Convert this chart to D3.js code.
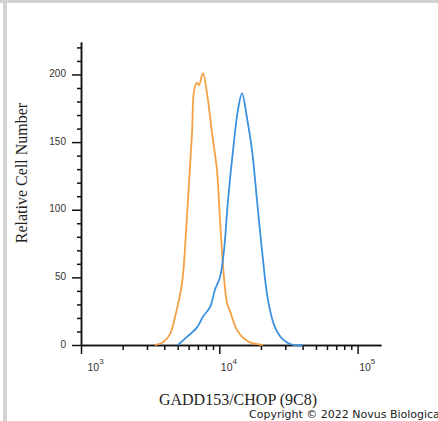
<!DOCTYPE html>
<html>
<head>
<meta charset="utf-8">
<script src="https://cdn.jsdelivr.net/npm/d3@7"></script>
<style>
  html, body { margin: 0; padding: 0; background: #fff; }
  svg { display: block; }
  .axis path, .axis line { stroke: #111; stroke-width: 1.5; }
  .axis text { font-family: "Liberation Sans", Arial, sans-serif; fill: #333; }
</style>
</head>
<body>
<div id="chart"></div>
<script>
"use strict";

// isotype control (orange) and GADD153/CHOP stained (blue): intensity, count
var controlIntensity = [3430, 3920, 4400, 4790, 5380, 5740, 6040, 6350, 6570, 6900, 7130, 7620, 8150, 8850, 9620, 10100, 10650, 11370, 11950, 13420, 15000, 16670, 20690];
var controlCount     = [0,    2,    8,    21,   46,   83,   120,  157,  188,  194,  192,  201,  186,  157,  129,  94,    58,    31,    25,    11,    5,     2,     0];

var chopIntensity = [5020, 5840, 6900, 7620, 8570, 9310, 10110, 10810, 11560, 12570, 13650, 14590, 15850, 17230, 18730, 20360, 22500, 25280, 28890, 34120, 40270];
var chopCount     = [0,    6,    13,   21,   28,   41,   50,    70,    107,   144,   174,   186,   168,   144,   107,   70,    33,    13,    4,     0,     0];

var yMajor = [0, 50, 100, 150, 200];
var xMajor = [1e3, 1e4, 1e5];
var xMajorExp = ["3", "4", "5"];

var width = 438, height = 421;

var svg = d3.select('#chart').append('svg')
    .attr('width', width)
    .attr('height', height);

// frame remnants of the screenshot
svg.append('rect').attr('x', 0).attr('y', 0).attr('width', width).attr('height', 3).attr('fill', '#d3d3d3');
svg.append('rect').attr('x', 3).attr('y', 0).attr('width', 4).attr('height', height).attr('fill', '#d3d3d3');

var x = d3.scaleLog()
    .domain([1e3, Math.pow(10, 5.169)])
    .range([81, 381]);

var y = d3.scaleLinear()
    .domain([0, 224])
    .range([345, 42]);

// minor x ticks 2..9 x 10^n
var xMinor = [];
[1e3, 1e4, 1e5].forEach(function (base) {
    for (var k = 2; k <= 9; k++) {
        if (base * k <= x.domain()[1]) xMinor.push(base * k);
    }
});
var yMinor = d3.range(0, 230, 10).filter(function (v) { return v % 50 !== 0; });

// y axis
svg.append('g')
    .attr('class', 'axis')
    .attr('transform', 'translate(81,0)')
    .call(d3.axisLeft(y).tickValues(yMinor).tickSize(4).tickSizeOuter(0).tickFormat(''));

svg.append('g')
    .attr('class', 'axis axis--y')
    .attr('transform', 'translate(81,0)')
    .call(d3.axisLeft(y).tickValues(yMajor).tickSize(9).tickSizeOuter(0).tickPadding(6))
    .call(function (g) {
        g.selectAll('text').style('font-size', '10px').attr('dy', '0.2em');
        g.selectAll('.tick line').attr('stroke-width', 2);
    });

// x axis
svg.append('g')
    .attr('class', 'axis')
    .attr('transform', 'translate(0,345)')
    .call(d3.axisBottom(x).tickValues(xMinor).tickSize(5).tickSizeOuter(0).tickFormat(''));

var xAxisG = svg.append('g')
    .attr('class', 'axis axis--x')
    .attr('transform', 'translate(0,345)')
    .call(d3.axisBottom(x).tickValues(xMajor).tickSize(9).tickSizeOuter(0).tickFormat(''));
xAxisG.selectAll('.tick line').attr('stroke-width', 2);

xAxisG.selectAll('.tick').append('text')
    .attr('x', function (d, i) { return i === 0 ? 6 : 1; })
    .attr('y', 26)
    .attr('text-anchor', 'start')
    .style('font-size', '10.5px')
    .attr('fill', '#333')
    .each(function (d, i) {
        var t = d3.select(this);
        t.append('tspan').text('10');
        t.append('tspan').attr('dy', -7).style('font-size', '8px').text(xMajorExp[i]);
    });

// histograms
var line = d3.line()
    .x(function (d) { return x(d[0]); })
    .y(function (d) { return y(d[1]); })
    .curve(d3.curveCatmullRom.alpha(0.5));

svg.append('path')
    .datum(d3.zip(controlIntensity, controlCount))
    .attr('fill', 'none')
    .attr('stroke', '#f4a146')
    .attr('stroke-width', 1.8)
    .attr('d', line);

svg.append('path')
    .datum(d3.zip(chopIntensity, chopCount))
    .attr('fill', 'none')
    .attr('stroke', '#3d8fe0')
    .attr('stroke-width', 1.8)
    .attr('d', line);

// titles
svg.append('text')
    .attr('transform', 'translate(27,173) rotate(-90)')
    .attr('text-anchor', 'middle')
    .style('font-family', '"Liberation Serif", "Times New Roman", serif')
    .style('font-size', '16px')
    .attr('fill', '#222')
    .text('Relative Cell Number');

svg.append('text')
    .attr('x', 238)
    .attr('y', 405)
    .attr('text-anchor', 'middle')
    .style('font-family', '"Liberation Serif", "Times New Roman", serif')
    .style('font-size', '16px')
    .attr('fill', '#222')
    .text('GADD153/CHOP (9C8)');

// the source image cuts this line off at its right edge as well
svg.append('text')
    .attr('x', 249)
    .attr('y', 418)
    .style('font-family', '"DejaVu Sans", sans-serif')
    .style('font-size', '11px')
    .attr('fill', '#222')
    .text('Copyright \u00a9 2022 Novus Biologicals');
</script>
</body>
</html>
